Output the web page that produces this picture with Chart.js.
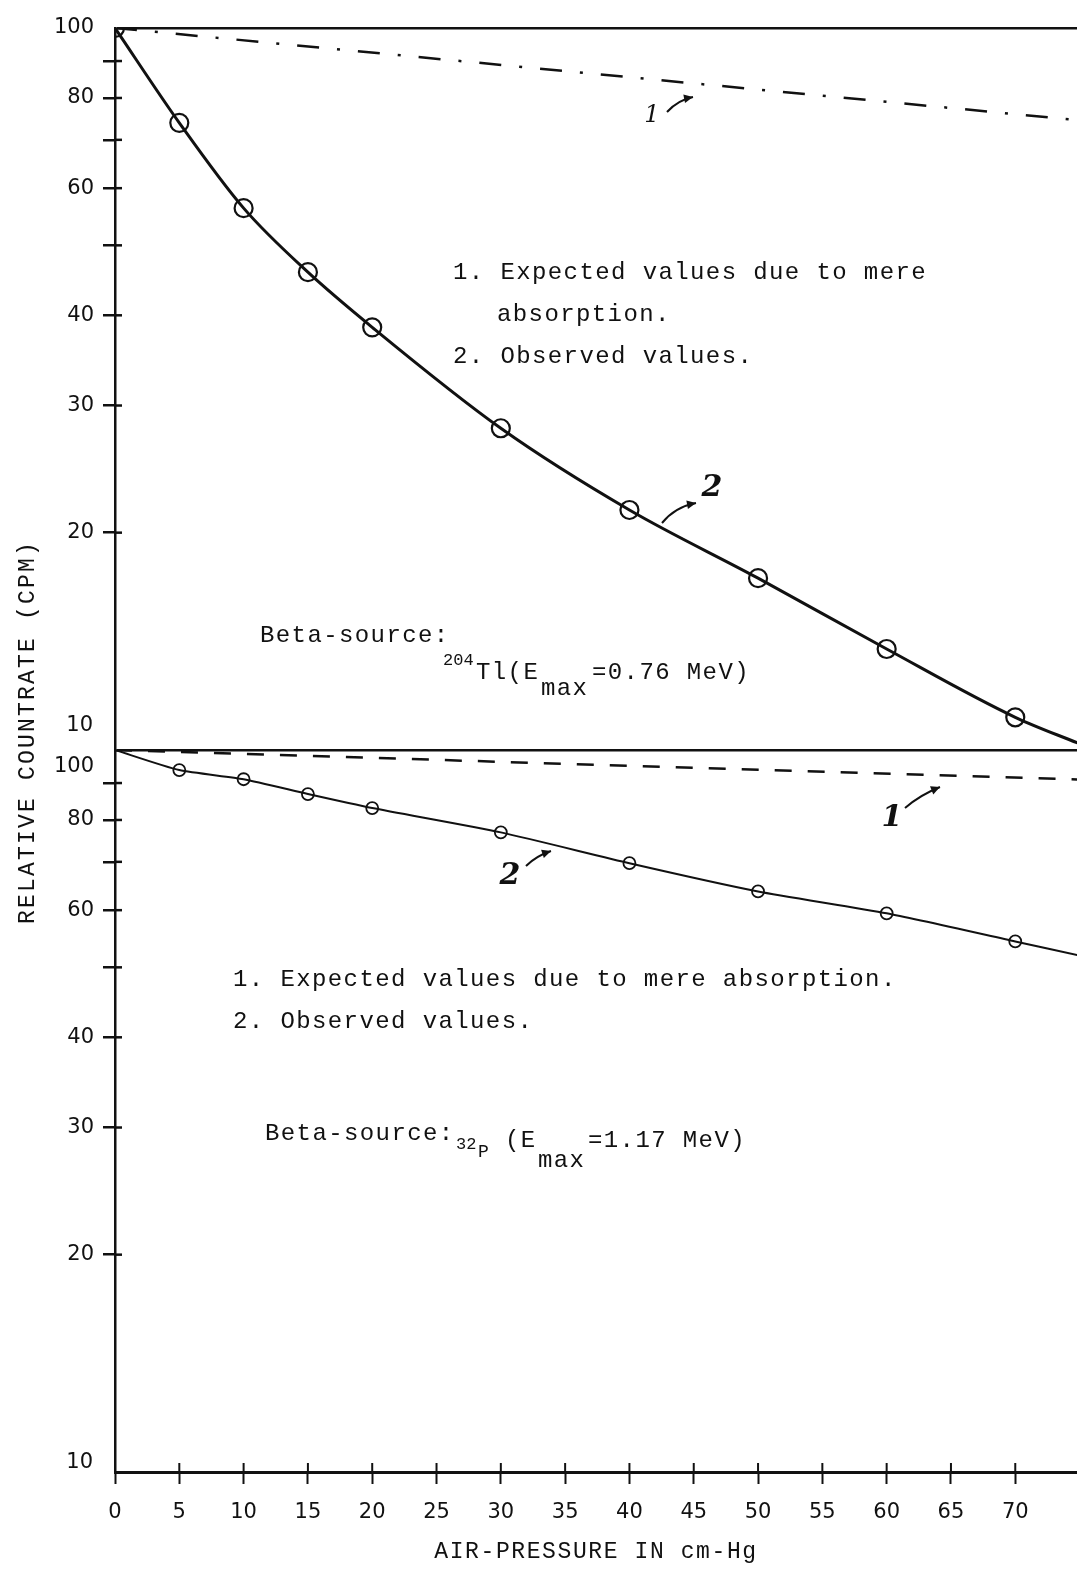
<!DOCTYPE html>
<html><head><meta charset="utf-8">
<script src="https://cdn.jsdelivr.net/npm/chart.js@4.4.1/dist/chart.umd.min.js"></script>
<style>html,body{margin:0;padding:0;background:#fff;overflow:hidden;width:1077px;height:1571px;}canvas{display:block;}</style>
</head><body>
<canvas id="c" width="1077" height="1571"></canvas>
<script>
// ---- data ----
const xTickValues = [0,5,10,15,20,25,30,35,40,45,50,55,60,65,70];
const yTickValues = [10,20,30,40,50,60,70,80,90,100];
const topLabelled = [100,80,60,40,30,20];
const botLabelled = [80,60,40,30,20];

// Tl-204 panel (top)
const tlPressure = [0,5,10,15,20,30,40,50,60,70,75];
const tlObserved = [100,73.9,56.3,45.9,38.5,27.9,21.5,17.3,13.8,11.1,10.2];
const tlExpectedPressure = [0,75];
const tlExpected = [100,74.5];

// P-32 panel (bottom)
const pPressure = [0,5,10,15,20,30,40,50,60,70,75];
const pObserved = [100,93.8,91.1,86.9,83.1,76.9,69.7,63.7,59.4,54.3,51.9];
const pExpectedPressure = [0,75];
const pExpected = [100,91.0];

const INK = '#111';
const MONO = '"Liberation Mono", "DejaVu Sans Mono", monospace';
const SANS = '"DejaVu Sans", sans-serif';

const toXY = (xs, ys) => xs.map((x, i) => ({x, y: ys[i]}));

function line(ctx, x1, y1, x2, y2){ ctx.beginPath(); ctx.moveTo(x1,y1); ctx.lineTo(x2,y2); ctx.stroke(); }

function runsAt(ctx, items){
  items.forEach(r => {
    ctx.font = r.size + 'px ' + MONO;
    ctx.letterSpacing = r.ls || '1.4px';
    ctx.fillText(r.t, r.x, r.y);
  });
}

function arrow(ctx, x1, y1, cx, cy, x2, y2){
  ctx.beginPath(); ctx.moveTo(x1,y1); ctx.quadraticCurveTo(cx,cy,x2,y2); ctx.stroke();
  const a = Math.atan2(y2-cy, x2-cx);
  const h = 10;
  ctx.beginPath();
  ctx.moveTo(x2,y2);
  ctx.lineTo(x2 - h*Math.cos(a-0.45), y2 - h*Math.sin(a-0.45));
  ctx.lineTo(x2 - h*Math.cos(a+0.45), y2 - h*Math.sin(a+0.45));
  ctx.closePath(); ctx.fill();
}

const annot = {
  id: 'annot',
  afterDraw(chart){
    const ctx = chart.ctx;
    const xs = chart.scales.x, yt = chart.scales.yTop, yb = chart.scales.yBot;
    const L = chart.chartArea.left, B = chart.chartArea.bottom;
    ctx.save();
    ctx.strokeStyle = INK; ctx.fillStyle = INK; ctx.lineWidth = 2.5;
    // inner halves of the cross ticks
    yTickValues.forEach(v => {
      if (v !== 10 && v !== 100) {
        [yt, yb].forEach(s => { const y = s.getPixelForValue(v); line(ctx, L, y, L + 7, y); });
      }
    });
    ctx.lineWidth = 2;
    xTickValues.forEach(v => { if (v > 0) { const x = xs.getPixelForValue(v); line(ctx, x, B, x, B - 9); } });

    // tick labels at the panel joins
    ctx.font = '21px ' + SANS; ctx.textAlign = 'right'; ctx.textBaseline = 'middle';
    ctx.fillText('10', 93, yt.getPixelForValue(10) - 24);
    ctx.fillText('100', 94, yb.getPixelForValue(100) + 17);
    ctx.fillText('10', 93, yb.getPixelForValue(10) - 9);

    // typed notes
    ctx.textAlign = 'left';
    ctx.font = '24px ' + MONO; ctx.letterSpacing = '1.4px';
    ctx.fillText('1. Expected values due to mere', 453, 273);
    ctx.fillText('absorption.', 497, 315);
    ctx.fillText('2. Observed values.', 453, 357);
    ctx.fillText('Beta-source:', 260, 636);
    runsAt(ctx, [
      {t:'204', size:17, x:443, y:660, ls:'0px'},
      {t:'Tl(E', size:24, x:476, y:673},
      {t:'max', size:24, x:541, y:689},
      {t:'=0.76 MeV)', size:24, x:592, y:673}
    ]);
    ctx.font = '24px ' + MONO; ctx.letterSpacing = '1.4px';
    ctx.fillText('1. Expected values due to mere absorption.', 233, 980);
    ctx.fillText('2. Observed values.', 233, 1022);
    ctx.fillText('Beta-source:', 265, 1134);
    runsAt(ctx, [
      {t:'32', size:17, x:456, y:1144, ls:'0px'},
      {t:'P', size:18, x:478, y:1152, ls:'0px'},
      {t:'(E', size:24, x:505, y:1141},
      {t:'max', size:24, x:538, y:1161},
      {t:'=1.17 MeV)', size:24, x:588, y:1141}
    ]);

    // axis titles
    ctx.font = '23px ' + MONO; ctx.letterSpacing = '1.6px'; ctx.textAlign = 'center';
    ctx.fillText('AIR-PRESSURE IN cm-Hg', 596, 1552);
    ctx.save();
    ctx.translate(28, 732); ctx.rotate(-Math.PI/2);
    ctx.letterSpacing = '2.2px';
    ctx.fillText('RELATIVE COUNTRATE (CPM)', 0, 0);
    ctx.restore();

    // hand-written curve labels
    ctx.letterSpacing = '0px';
    ctx.textAlign = 'center';
    ctx.lineWidth = 2;
    ctx.font = 'italic 24px "DejaVu Serif", serif';
    ctx.fillText('1', 652, 116);
    arrow(ctx, 667, 112, 678, 100, 693, 97);
    ctx.font = 'italic bold 30px "DejaVu Serif", serif';
    ctx.fillText('2', 712, 488);
    arrow(ctx, 662, 523, 675, 507, 696, 503);
    ctx.fillText('1', 892, 818);
    arrow(ctx, 905, 808, 920, 795, 940, 787);
    ctx.fillText('2', 510, 876);
    arrow(ctx, 526, 866, 536, 856, 551, 851);
    ctx.restore();
  }
};

function yScale(isTop){
  return {
    type: 'logarithmic', position: 'left', stack: 'panels', stackWeight: 1, weight: isTop ? 2 : 1,
    min: 10, max: 100,
    afterBuildTicks: s => { s.ticks = yTickValues.map(v => ({value: v})); },
    afterFit: s => { s.width = 115; },
    border: {display: true, color: INK, width: 2.5},
    grid: {
      drawOnChartArea: true, drawTicks: true, tickLength: 12, tickWidth: 2.5, lineWidth: 2.5,
      color: c => (c.tick && c.tick.value === 100) ? INK : 'rgba(0,0,0,0)',
      tickColor: c => (c.tick && (c.tick.value === 10 || c.tick.value === 100)) ? 'rgba(0,0,0,0)' : INK
    },
    ticks: {
      autoSkip: false, padding: 9, color: INK, font: {family: 'DejaVu Sans', size: 21},
      callback: v => (isTop ? topLabelled : botLabelled).includes(v) ? String(v) : ''
    }
  };
}

new Chart(document.getElementById('c'), {
  type: 'line',
  data: {
    datasets: [
      { label: 'Tl expected', data: toXY(tlExpectedPressure, tlExpected), yAxisID: 'yTop',
        borderColor: INK, borderWidth: 2.5, borderDash: [22, 18, 3, 18], pointRadius: 0, fill: false },
      { label: 'Tl observed', data: toXY(tlPressure, tlObserved), yAxisID: 'yTop',
        borderColor: INK, borderWidth: 3, cubicInterpolationMode: 'monotone',
        pointRadius: tlPressure.map((p, i) => i === tlPressure.length - 1 ? 0 : 9),
        pointBorderWidth: 2.2, pointBorderColor: INK, pointBackgroundColor: 'rgba(0,0,0,0)', fill: false },
      { label: 'P expected', data: toXY(pExpectedPressure, pExpected), yAxisID: 'yBot',
        borderColor: INK, borderWidth: 2.5, borderDash: [17, 16], pointRadius: 0, fill: false },
      { label: 'P observed', data: toXY(pPressure, pObserved), yAxisID: 'yBot',
        borderColor: INK, borderWidth: 2, tension: 0.2,
        pointRadius: pPressure.map((p, i) => (i === 0 || i === pPressure.length - 1) ? 0 : 6),
        pointBorderWidth: 1.8, pointBorderColor: INK, pointBackgroundColor: 'rgba(0,0,0,0)', fill: false }
    ]
  },
  options: {
    responsive: false, animation: false, devicePixelRatio: 1,
    layout: {autoPadding: false, padding: {top: 28, right: 0, left: 0, bottom: 0}},
    plugins: {legend: {display: false}, tooltip: {enabled: false}},
    scales: {
      x: {
        type: 'linear', position: 'bottom', min: 0, max: 74.8,
        afterBuildTicks: s => { s.ticks = xTickValues.map(v => ({value: v})); },
        afterFit: s => { s.height = 99; },
        border: {display: true, color: INK, width: 3},
        grid: {drawOnChartArea: false, drawTicks: true, tickLength: 12, tickWidth: 2, tickColor: INK},
        ticks: {autoSkip: false, maxRotation: 0, padding: 16, color: INK, font: {family: 'DejaVu Sans', size: 21}}
      },
      yBot: yScale(false),
      yTop: yScale(true)
    }
  },
  plugins: [annot]
});
</script>
</body></html>
